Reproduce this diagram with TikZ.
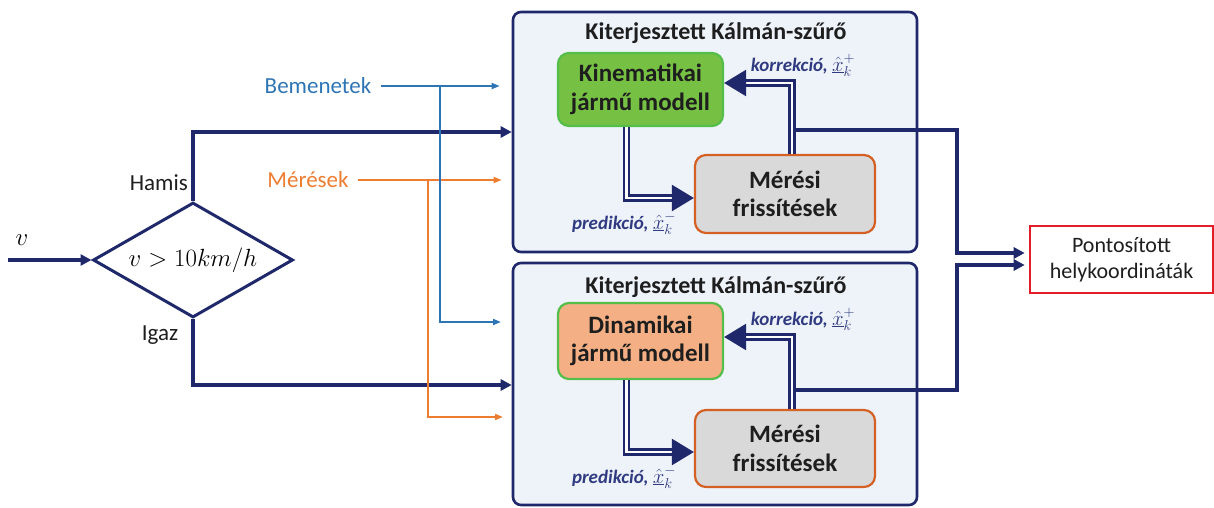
\documentclass[tikz,border=0pt]{standalone}
\usepackage{fontspec}
\setmainfont{Carlito}
\usetikzlibrary{arrows.meta,shapes.geometric}
\definecolor{navy}{RGB}{32,40,108}
\definecolor{ekffill}{RGB}{238,243,250}
\definecolor{kinfill}{RGB}{118,192,68}
\definecolor{kinborder}{RGB}{84,190,72}
\definecolor{dynfill}{RGB}{244,176,132}
\definecolor{merfill}{RGB}{217,217,217}
\definecolor{merborder}{RGB}{212,96,36}
\definecolor{bluetxt}{RGB}{46,117,182}
\definecolor{orangetxt}{RGB}{237,125,49}
\definecolor{redbox}{RGB}{228,30,40}
\definecolor{lblnavy}{RGB}{47,58,128}
\definecolor{dark}{RGB}{30,30,30}
\newcommand{\xest}[1]{{\fontsize{22}{22}\selectfont$\underline{\hat{x}}_k^{#1}$}}
\begin{document}
\begin{tikzpicture}[x=1pt,y=-1pt,
  ekf/.style={draw=navy, line width=2.6pt, fill=ekffill, rounded corners=8pt, inner sep=0pt},
  boxtitle/.style={font=\fontsize{24}{27}\selectfont\bfseries, text=dark, inner sep=0pt},
  inbox/.style={line width=2.2pt, rounded corners=11pt, align=center, text=dark,
    font=\fontsize{25}{28.5}\selectfont\bfseries, inner sep=0pt},
  kinbox/.style={inbox, draw=kinborder, fill=kinfill},
  dynbox/.style={inbox, draw=kinborder, fill=dynfill},
  merbox/.style={inbox, draw=merborder, fill=merfill},
  pontbox/.style={draw=redbox, line width=2.6pt, fill=white, align=center, text=dark,
    font=\fontsize{22}{26}\selectfont, inner sep=0pt, minimum width=183pt, minimum height=67pt},
  decision/.style={diamond, aspect=1.74, draw=navy, line width=3pt, inner sep=0pt, minimum width=200pt,
    minimum height=115pt, font=\fontsize{27}{29}\selectfont},
  lbl/.style={font=\fontsize{23}{26}\selectfont, text=dark, inner sep=0pt},
  inlbl/.style={font=\fontsize{23}{26}\selectfont, inner sep=0pt},
  stepl/.style={font=\fontsize{19}{22}\selectfont\bfseries\itshape, text=lblnavy, inner sep=0pt},
  mainline/.style={draw=navy, line width=3.2pt, -{Triangle[length=11pt,width=11pt]}},
  blueline/.style={draw=bluetxt, line width=1.8pt, -{Triangle[length=8pt,width=6pt]}},
  orangeline/.style={draw=orangetxt, line width=1.8pt, -{Triangle[length=8pt,width=6pt]}},
  dblline/.style={draw=navy, line width=2.4pt, double=white, double distance=2.6pt,
    -{Triangle[length=22pt,width=26pt]}}
]
\useasboundingbox (0,0) rectangle (1214,508);

% filter boxes
\node[ekf, minimum width=404pt, minimum height=240pt] (ekf1) at (715,132) {};
\node[ekf, minimum width=404pt, minimum height=242pt] (ekf2) at (715,384) {};
\node[boxtitle] (t1) at (716,33) {Kiterjesztett Kálmán-szűrő};
\node[boxtitle] (t2) at (716,287) {Kiterjesztett Kálmán-szűrő};

% inner boxes
\node[kinbox, minimum width=165pt, minimum height=73pt] (kin) at (640.5,89.5) {Kinematikai\\jármű modell};
\node[merbox, minimum width=180pt, minimum height=78pt] (mer1) at (785,194) {Mérési\\frissítések};
\node[dynbox, minimum width=165pt, minimum height=76pt] (dyn) at (640.5,341) {Dinamikai\\jármű modell};
\node[merbox, minimum width=180pt, minimum height=77pt] (mer2) at (785,448.5) {Mérési\\frissítések};

% labels inside filters
\node[stepl] (k1) at (803,65) {korrekció,\ \xest{+}};
\node[stepl] (p1) at (624,223) {predikció,\ \xest{-}};
\node[stepl] (k2) at (803,319) {korrekció,\ \xest{+}};
\node[stepl] (p2) at (624,477) {predikció,\ \xest{-}};

% output box
\node[pontbox] (pont) at (1121.5,259.5) {Pontosított\\helykoordináták};

% decision
\node[decision] (dia) at (193,260) {$v > 10km/h$};
\node[font=\fontsize{24}{26}\selectfont, inner sep=0pt] (vlab) at (22,240) {$v$};
\coordinate (vin) at (8,260);
\node[lbl, anchor=east] (hamis) at (188,183) {Hamis};
\node[lbl] (igaz) at (160,335) {Igaz};

% inputs
\node[inlbl, text=bluetxt] (bem) at (318,86) {Bemenetek};
\node[inlbl, text=orangetxt] (mers) at (308,180) {Mérések};
\coordinate (bsplit) at (440,86);
\coordinate (btgt) at (513,322);
\coordinate (osplit) at (428,180);
\coordinate (otgt) at (513,417);

% output junctions
\coordinate (o1) at (792,130);
\coordinate (o2) at (792,390);
\coordinate (j1) at (957,130);
\coordinate (j2) at (957,390);

% navy connectors
\draw[mainline] (vin) -- (dia.west);
\draw[mainline] (dia.north) |- (ekf1.west);
\draw[mainline] (dia.south) |- ([yshift=-1pt]ekf2.west);
\draw[mainline, shorten >=4pt] (o1) -- (j1) |- ([yshift=6.5pt]pont.west);
\draw[mainline, shorten >=4pt] (o2) -- (j2) |- ([yshift=-5.5pt]pont.west);

% orange and blue inputs
\draw[orangeline, shorten >=10pt] ([xshift=9pt]mers.east) -- (ekf1.west |- mers.east);
\draw[orangeline, shorten >=10pt] (osplit) |- (otgt);
\draw[blueline, shorten >=12pt] ([xshift=10pt]bem.east) -- (ekf1.west |- bem.east);
\draw[blueline, shorten >=12pt] (bsplit) |- (btgt);

% double arrows
\draw[dblline] ([xshift=-14pt]kin.south) |- ([yshift=-4pt]mer1.west);
\draw[dblline] ([xshift=7pt]mer1.north) |- ([yshift=6.5pt]kin.east);
\draw[dblline] ([xshift=-14pt]dyn.south) |- ([yshift=-3.5pt]mer2.west);
\draw[dblline] ([xshift=7pt]mer2.north) |- ([yshift=4pt]dyn.east);
\end{tikzpicture}
\end{document}
